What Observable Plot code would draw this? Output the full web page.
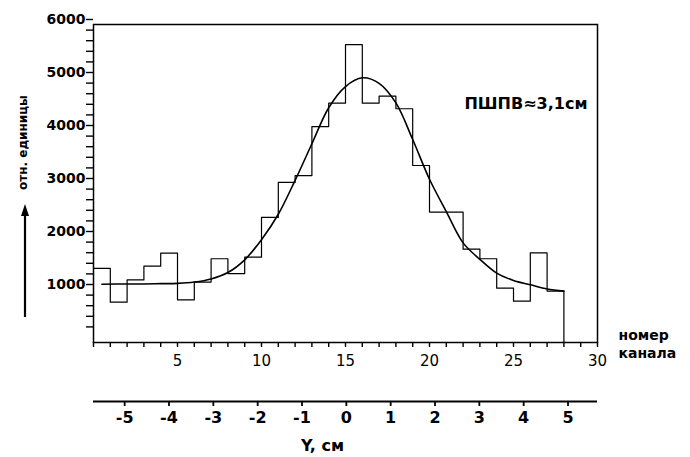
<!DOCTYPE html>
<html><head><meta charset="utf-8">
<script src="https://cdn.jsdelivr.net/npm/d3@7"></script>
<script src="https://cdn.jsdelivr.net/npm/@observablehq/plot@0.6"></script>
<style>body{margin:0;background:#fff} #chart{width:690px;height:457px;overflow:hidden}</style>
</head><body><div id="chart"></div>
<script>
// Histogram: counts per channel bin (bin i spans channel i .. i+1)
const binStart = [0,1,2,3,4,5,6,7,8,9,10,11,12,13,14,15,16,17,18,19,20,21,22,23,24,25,26,27];
const binEnd = 28;
const counts = [1400,760,1180,1440,1685,805,1140,1580,1300,1610,2360,3020,3150,4075,4515,5620,4515,4650,4410,3340,2460,2460,1760,1580,1025,780,1690,970];
// Fitted curve
const fitChannel = [0.5,2,3,4,5,6,7,8,9,10,11,12,13,14,15,16,17,18,19,20,21,22,23,24,25,26,27,28];
const fitValue = [1100,1105,1105,1110,1115,1140,1200,1320,1560,1940,2420,3060,3750,4430,4830,4995,4890,4520,3830,3080,2470,1880,1570,1310,1170,1090,1010,970];
// Axes
const xTicks = [0,1,2,3,4,5,6,7,8,9,10,11,12,13,14,15,16,17,18,19,20,21,22,23,24,25,26,27,28,29,30];
const xLabels = [5,10,15,20,25,30];
const yTicks = [200,400,600,800,1000,1200,1400,1600,1800,2000,2200,2400,2600,2800,3000,3200,3400,3600,3800,4000,4200,4400,4600,4800,5000,5200,5400,5600,5800,6000];
const yLabels = [1000,2000,3000,4000,5000,6000];
const cmTicks = [-5,-4,-3,-2,-1,0,1,2,3,4,5];
const cmLabels = ["-5","-4","-3","-2","-1","0","1","2","3","4","5"];
const cmZeroChannel = 15.05, channelsPerCm = 2.639;
const fwhmLabel = "ПШПВ≈3,1см";
const yTitle = "отн. единицы";
const xTitle = ["номер", "канала"];
const cmTitle = "Y, см";

const stepData = binStart.map((c, i) => ({x: c, y: counts[i]}))
  .concat([{x: binEnd, y: counts[counts.length - 1]}, {x: binEnd, y: 0}]);
const fitData = fitChannel.map((c, i) => ({x: c, y: fitValue[i]}));
const cmChannels = cmTicks.map(c => cmZeroChannel + c * channelsPerCm);
const cmLabelOf = new Map(cmChannels.map((c, i) => [c, cmLabels[i]]));
const xLabelSet = new Set(xLabels), yLabelSet = new Set(yLabels);
const F = "DejaVu Sans";

const svg = Plot.plot({
  width: 690, height: 457,
  marginLeft: 93, marginRight: 93, marginTop: 24, marginBottom: 115,
  x: {domain: [0, 30]},
  y: {domain: [0, 6000]},
  style: {fontFamily: F, background: "white", color: "black"},
  marks: [
    Plot.frame({stroke: "black", strokeWidth: 1.5}),
    Plot.axisY({ticks: yTicks, tickSize: 7, tickPadding: 1, strokeWidth: 1.4, dy: -5,
      tickFormat: d => yLabelSet.has(d) ? String(d) : "", label: null,
      fontSize: 14, fontWeight: "bold"}),
    Plot.axisX({ticks: xTicks, tickSize: 5, tickPadding: 8, strokeWidth: 1.4,
      tickFormat: d => xLabelSet.has(d) ? String(d) : "", label: null, fontSize: 15}),
    Plot.ruleY([0], {dy: 59, strokeWidth: 1.8}),
    Plot.axisX({ticks: cmChannels, tickSize: 5, tickPadding: 5, dy: 59, strokeWidth: 1.8,
      tickFormat: d => cmLabelOf.get(d), label: null, fontSize: 16, fontWeight: "bold"}),
    Plot.line(stepData, {x: "x", y: "y", curve: "step-after", stroke: "black", strokeWidth: 1.2}),
    Plot.line(fitData, {x: "x", y: "y", curve: "catmull-rom", stroke: "black", strokeWidth: 1.6}),
    Plot.text([fwhmLabel], {frameAnchor: "top-right", dx: -10, dy: 73, textAnchor: "end",
      fontSize: 16, fontWeight: "bold"}),
    Plot.text([xTitle[0]], {frameAnchor: "bottom-right", dx: 21, dy: -3, textAnchor: "start",
      fontSize: 14, fontWeight: "bold"}),
    Plot.text([xTitle[1]], {frameAnchor: "bottom-right", dx: 21, dy: 15, textAnchor: "start",
      fontSize: 14, fontWeight: "bold"}),
    Plot.text([cmTitle], {frameAnchor: "bottom-left", dx: 229, dy: 108, textAnchor: "middle",
      fontSize: 16, fontWeight: "bold"}),
    Plot.text([yTitle], {frameAnchor: "top-left", dx: -70, dy: 118, rotate: -90,
      textAnchor: "middle", lineAnchor: "middle", fontSize: 12, fontWeight: "bold"})
  ]
});
// decorative arrow next to the y-axis title
const s = d3.select(svg);
s.append("line").attr("x1", 25).attr("x2", 25).attr("y1", 317).attr("y2", 214)
  .attr("stroke", "black").attr("stroke-width", 2.2);
s.append("path").attr("d", "M25,204 L21,216 L29,216 Z").attr("fill", "black");
document.getElementById("chart").appendChild(svg);
</script>
</body></html>
